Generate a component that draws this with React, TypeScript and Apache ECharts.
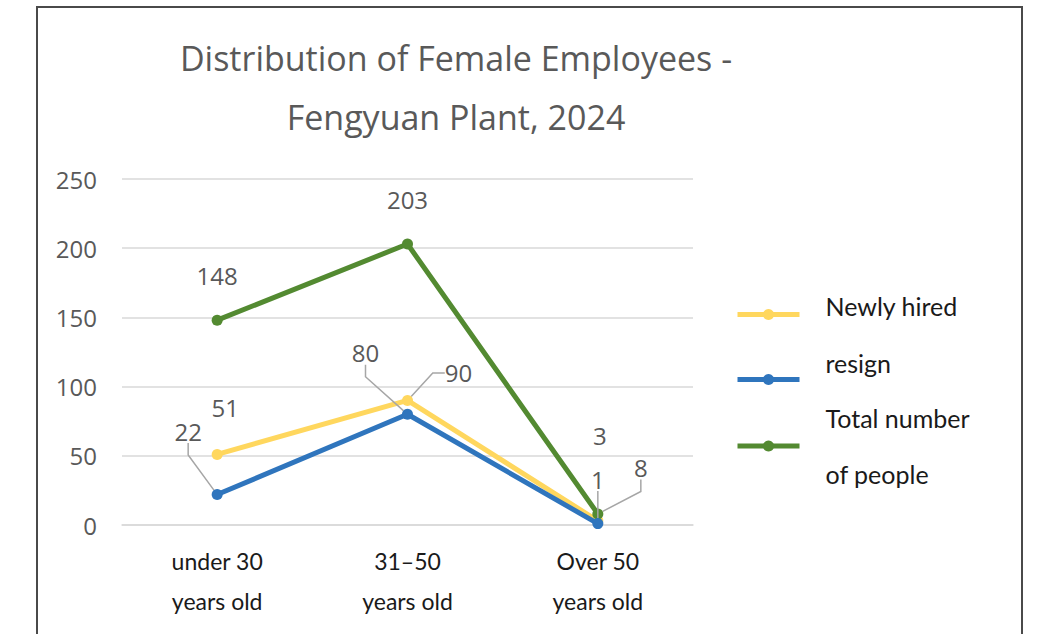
import React, { useEffect, useRef } from "react";
import * as echarts from "echarts";

const categories = ["under 30\nyears old", "31–50\nyears old", "Over 50\nyears old"];
const newlyHired = [51, 90, 3];
const resign = [22, 80, 1];
const totalPeople = [148, 203, 8];
const yTicks = { min: 0, max: 250, interval: 50 };
const seriesNames = ["Newly hired", "resign", "Total number\nof people"];

// label displacements (style only)
const labelShift: Record<number, { dx: number; dy: number; line: boolean }[]> = {
  0: [
    { dx: 8, dy: -24, line: false },
    { dx: 51, dy: -5, line: true },
    { dx: 2, dy: -63, line: false },
  ],
  1: [
    { dx: -29, dy: -41, line: true },
    { dx: -42, dy: -39, line: true },
    { dx: 0, dy: -22, line: true },
  ],
  2: [
    { dx: 0, dy: -22, line: false },
    { dx: 0, dy: -22, line: false },
    { dx: 43, dy: -24, line: true },
  ],
};

const colors = ["#FFD75E", "#2F75BD", "#538A31"];

export default function App() {
  const ref = useRef<HTMLDivElement>(null);
  useEffect(() => {
    if (!ref.current) return;
    const chart = echarts.init(ref.current, undefined, { renderer: "svg" });
    const values = [newlyHired, resign, totalPeople];
    const mkSeries = (si: number) => ({
      name: seriesNames[si],
      type: "line",
      data: values[si].map((v, i) => ({
        value: v,
        labelLine: { show: labelShift[si][i].line },
      })),
      symbol: "circle",
      symbolSize: 11,
      lineStyle: { width: 5, color: colors[si] },
      itemStyle: { color: colors[si] },
      z: si === 2 ? 3 : si === 1 ? 4 : 2,
      label: {
        show: true,
        position: "top",
        distance: 5,
        color: "#595959",
        fontSize: 24,
        fontFamily: "Open Sans",
      },
      labelLine: {
        show: true,
        length2: 12,
        lineStyle: { color: "#A6A6A6", width: 1.5 },
      },
      labelLayout: (p: any) => {
        const s = labelShift[si][p.dataIndex];
        return { dx: s.dx, dy: s.dy, hideOverlap: false };
      },
    });
    const legendTops = [293, 350, 390];
    const legendPadBottom = [18, 34, 0];
    const legendLH = [26, 26, 56];
    chart.setOption({
      animation: false,
      backgroundColor: "#ffffff",
      grid: { left: 122, right: 344, top: 179, bottom: 109, containLabel: false },
      xAxis: {
        type: "category",
        data: categories,
        boundaryGap: true,
        axisLine: { show: true, lineStyle: { color: "#D9D9D9", width: 1.5 } },
        axisTick: { show: false },
        axisLabel: {
          color: "#1a1a1a",
          fontSize: 23,
          lineHeight: 40,
          margin: 16,
          fontFamily: "Lato",
        },
      },
      yAxis: {
        type: "value",
        min: yTicks.min,
        max: yTicks.max,
        interval: yTicks.interval,
        axisLine: { show: false },
        axisTick: { show: false },
        splitLine: { lineStyle: { color: "#D9D9D9", width: 1.5 } },
        axisLabel: {
          color: "#595959",
          fontSize: 24,
          margin: 25,
          fontFamily: "Open Sans",
        },
      },
      legend: [0, 1, 2].map((i) => ({
        data: [seriesNames[i]],
        orient: "vertical",
        left: 735,
        top: legendTops[i],
        padding: 0,
        itemWidth: 62,
        itemHeight: 14,
        selectedMode: false,
        lineStyle: { width: 5 },
        formatter: i < 2 ? (name: string) => `{a|${name}}` : undefined,
        textStyle: {
          color: "#1a1a1a",
          fontSize: 25,
          fontFamily: "Lato",
          lineHeight: legendLH[i],
          padding: [0, 0, 0, 21],
          rich: {
            a: {
              color: "#1a1a1a",
              fontSize: 25,
              fontFamily: "Lato",
              lineHeight: legendLH[i],
              padding: [0, 0, legendPadBottom[i], 0],
            },
          },
        },
      })),
      graphic: [
        {
          type: "rect",
          shape: { x: 37, y: 7, width: 985, height: 700 },
          style: { fill: "none", stroke: "#4a4a4a", lineWidth: 2 },
          silent: true,
        },
        {
          type: "text",
          x: 456,
          y: 87,
          style: {
            text: "Distribution of Female Employees -\nFengyuan Plant, 2024",
            textAlign: "center",
            textVerticalAlign: "middle",
            fontSize: 34,
            lineHeight: 59,
            fill: "#595959",
            fontFamily: "Open Sans",
          },
        },
      ],
      series: [mkSeries(0), mkSeries(1), mkSeries(2)],
    });
    return () => chart.dispose();
  }, []);
  return (
    <div
      ref={ref}
      style={{ position: "fixed", left: 0, top: 0, width: 1037, height: 634 }}
    />
  );
}
